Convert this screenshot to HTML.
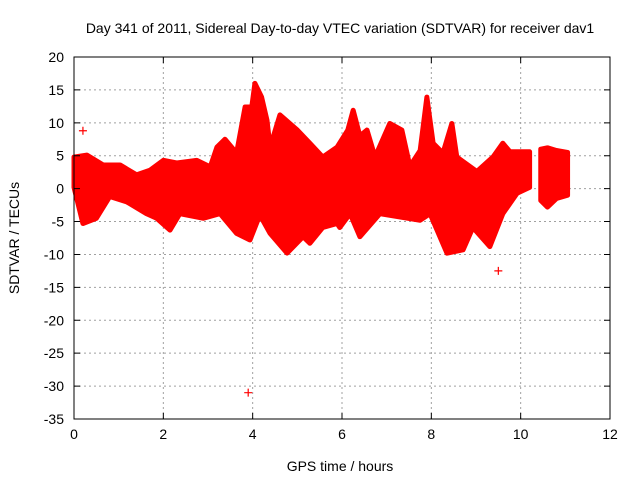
<!DOCTYPE html>
<html><head><meta charset="utf-8"><style>
body{margin:0;background:#fff}
svg{display:block;font-family:"Liberation Sans",sans-serif;font-size:14px}
</style></head><body>
<svg id="c" width="640" height="480">
<text x="340" y="33" text-anchor="middle">Day 341 of 2011, Sidereal Day-to-day VTEC variation (SDTVAR) for receiver dav1</text>
<text x="340" y="471" text-anchor="middle">GPS time / hours</text>
<text transform="translate(19,238) rotate(-90)" text-anchor="middle">SDTVAR / TECUs</text>
<g id="grid"></g><g id="marks"></g><g id="axes"></g>
</svg>
<script>
const xTicks=[0,2,4,6,8,10,12];
const yTicks=[-35,-30,-25,-20,-15,-10,-5,0,5,10,15,20];
const upperT=[0,0.29,0.65,1.03,1.4,1.7,2.0,2.3,2.75,3.05,3.2,3.38,3.64,3.83,3.98,4.05,4.2,4.32,4.39,4.61,5.0,5.28,5.57,5.89,6.13,6.25,6.4,6.56,6.74,7.07,7.34,7.52,7.75,7.9,8.04,8.26,8.46,8.57,9.02,9.38,9.6,9.76,10.2];
const upperV=[4.8,5.1,3.6,3.6,2.1,2.8,4.3,3.9,4.3,3.3,6.3,7.5,5.4,12.4,12.4,16,13.9,10.4,6.3,11.2,8.9,6.9,4.8,6.3,8.9,11.9,8,8.9,4.8,9.9,8.9,3.4,5.8,13.9,6.9,5.4,9.9,4.8,2.6,4.8,6.9,5.6,5.6];
const lowerT=[0,0.2,0.5,0.8,1.18,1.62,1.85,2.15,2.37,2.9,3.27,3.64,3.94,4.16,4.39,4.77,5.13,5.28,5.57,5.89,5.95,6.18,6.4,6.85,7.75,7.97,8.35,8.71,8.93,9.31,9.6,9.92,10.2];
const lowerV=[0.2,-5.3,-4.5,-1.2,-2,-3.8,-4.5,-6.3,-3.8,-4.5,-3.8,-6.8,-7.8,-4,-6.8,-9.8,-7.3,-8.3,-5.9,-5.3,-5.9,-3.8,-7.3,-3.8,-4.8,-3.8,-9.8,-9.3,-5.9,-8.8,-3.8,-0.7,0.2];
const cluster2T=[10.45,10.6,10.8,11.05,11.05,10.8,10.6,10.45];
const cluster2V=[6,6.2,5.8,5.5,-1,-1.5,-2.8,-1.8];
const outT=[0.2,3.9,9.5];
const outV=[8.8,-31,-12.5];
const X0=74,X1=610,Y0=419,Y1=57;
const sx=t=>X0+(t-0)/12*(X1-X0);
const sy=v=>Y0-(v+35)/55*(Y0-Y1);
const NS='http://www.w3.org/2000/svg';
function mk(tag,attrs,parent){const e=document.createElementNS(NS,tag);for(const k in attrs)e.setAttribute(k,attrs[k]);document.getElementById(parent).appendChild(e);return e;}
xTicks.forEach(t=>{
 if(t>0&&t<12){const g=mk('line',{x1:sx(t),x2:sx(t),y1:Y1,y2:Y0,stroke:'#a0a0a0','stroke-dasharray':'2,3'},'grid');
 
 }
 const tk=mk('path',{d:`M${sx(t)},${Y0}v-6M${sx(t)},${Y1}v6`,stroke:'#000'},'axes');
 
 
 const l=mk('text',{x:sx(t),y:Y0+20,'text-anchor':'middle'},'axes');l.textContent=t;
 
 
});
yTicks.forEach(v=>{
 if(v>-35&&v<20){const g=mk('line',{x1:X0,x2:X1,y1:sy(v),y2:sy(v),stroke:'#a0a0a0','stroke-dasharray':'2,3'},'grid');
 
 }
 const tk=mk('path',{d:`M${X0},${sy(v)}h6M${X1},${sy(v)}h-6`,stroke:'#000'},'axes');
 
 
 const l=mk('text',{x:X0-10,y:sy(v)+5,'text-anchor':'end'},'axes');l.textContent=v;
 
 
});
const fr=mk('rect',{x:X0,y:Y1,width:X1-X0,height:Y0-Y1,fill:'none',stroke:'#000'},'axes');


let pts=upperT.map((t,i)=>sx(t)+','+sy(upperV[i]));
for(let i=lowerT.length-1;i>=0;i--)pts.push(sx(lowerT[i])+','+sy(lowerV[i]));
const band=mk('polygon',{points:pts.join(' '),fill:'#ff0000',stroke:'#ff0000','stroke-width':5,'stroke-linejoin':'round'},'marks');


const c2=mk('polygon',{points:cluster2T.map((t,i)=>sx(t)+','+sy(cluster2V[i])).join(' '),fill:'#ff0000',stroke:'#ff0000','stroke-width':5,'stroke-linejoin':'round'},'marks');


outT.forEach((t,i)=>{
 const x=sx(t),y=sy(outV[i]);
 const p=mk('path',{d:`M${x-4},${y}h8M${x},${y-4}v8`,stroke:'#ff0000','stroke-width':1.2},'marks');
 
 
});
</script>
</body></html>
